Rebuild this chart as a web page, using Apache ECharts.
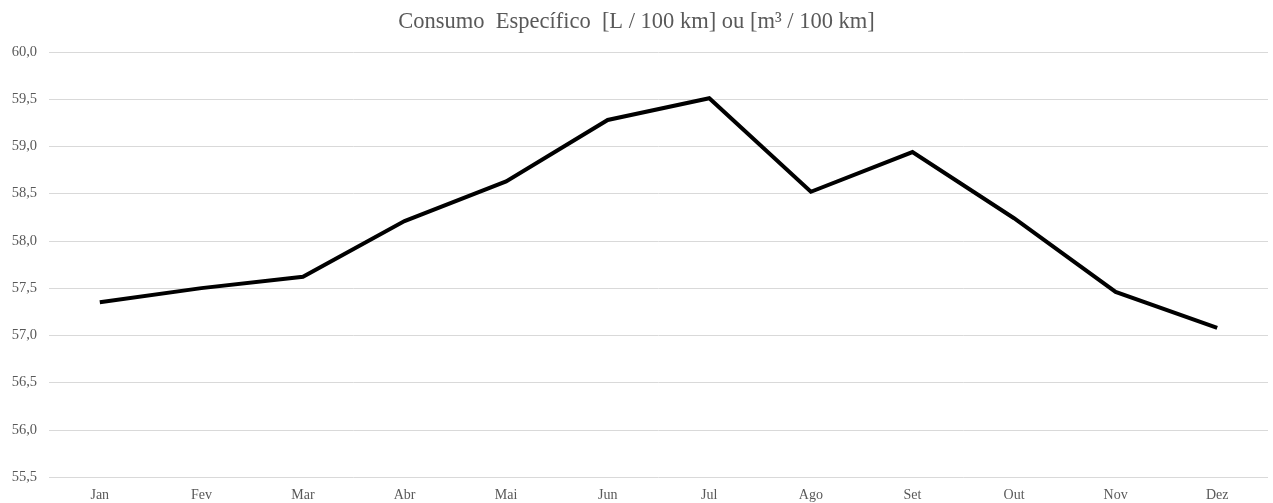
<!DOCTYPE html>
<html>
<head>
<meta charset="utf-8">
<script src="https://cdn.jsdelivr.net/npm/echarts@6/dist/echarts.min.js"></script>
<style>
  html, body { margin: 0; padding: 0; background: #fff; }
  #chart { width: 1273px; height: 503px; }
</style>
</head>
<body>
<div id="chart"></div>
<script>
// Monthly specific consumption
const months = ['Jan', 'Fev', 'Mar', 'Abr', 'Mai', 'Jun', 'Jul', 'Ago', 'Set', 'Out', 'Nov', 'Dez'];
const consumo = [57.35, 57.50, 57.62, 58.21, 58.63, 59.28, 59.51, 58.52, 58.94, 58.24, 57.46, 57.08];
const yMin = 55.5;
const yMax = 60.0;
const yStep = 0.5;

const serif = '"Liberation Serif", "DejaVu Serif", serif';
const chart = echarts.init(document.getElementById('chart'));
chart.setOption({
  animation: false,
  title: {
    text: 'Consumo  Específico  [L / 100 km] ou [m³ / 100 km]',
    left: 'center',
    top: 6,
    textStyle: { fontFamily: serif, fontSize: 22.5, fontWeight: 'normal', color: '#595959' }
  },
  grid: { left: 49, right: 5, top: 52, bottom: 26 },
  xAxis: {
    type: 'category',
    data: months,
    boundaryGap: true,
    axisLine: { show: false },
    axisTick: { show: false },
    axisLabel: { fontFamily: serif, fontSize: 14, color: '#595959', margin: 11 }
  },
  yAxis: {
    type: 'value',
    min: yMin,
    max: yMax,
    interval: yStep,
    axisLine: { show: false },
    axisTick: { show: false },
    axisLabel: {
      fontFamily: serif, fontSize: 14.5, color: '#595959', margin: 12,
      formatter: v => v.toFixed(1).replace('.', ',')
    },
    splitLine: { lineStyle: { color: '#d9d9d9', width: 1 } }
  },
  series: [{
    type: 'line',
    data: consumo,
    showSymbol: false,
    lineStyle: { color: '#000', width: 4, join: 'miter' }
  }]
});
</script>
</body>
</html>
